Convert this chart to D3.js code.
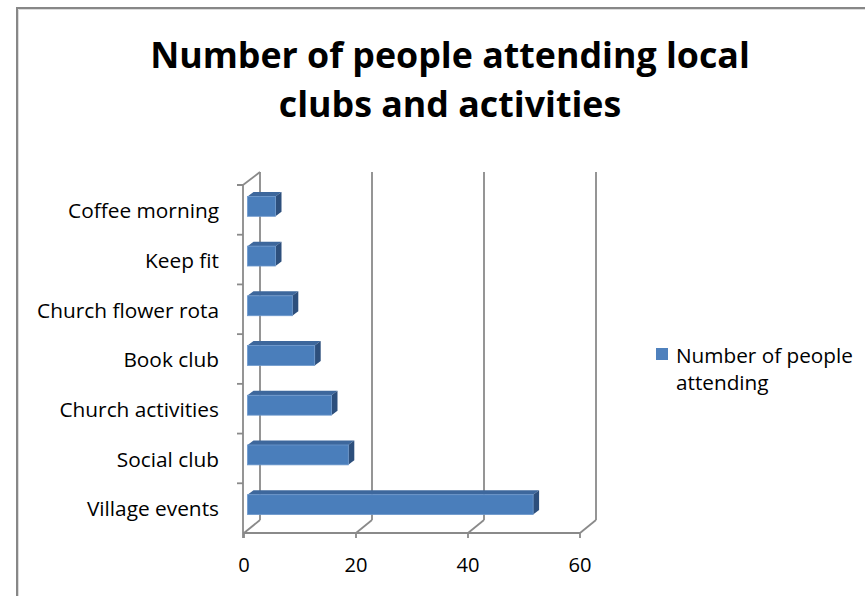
<!DOCTYPE html>
<html>
<head>
<meta charset="utf-8">
<script src="https://cdn.jsdelivr.net/npm/d3@7"></script>
<style>
  html, body { margin: 0; padding: 0; background: #fff; }
  svg { display: block; }
</style>
</head>
<body>
<script>
// Chart data
const categories = ["Village events", "Social club", "Church activities", "Book club",
                    "Church flower rota", "Keep fit", "Coffee morning"];
const values = [51, 18, 15, 12, 8, 5, 5];
const xTicks = [0, 20, 40, 60];
const titleLines = ["Number of people attending local", "clubs and activities"];
const seriesName = ["Number of people", "attending"];

const W = 865, H = 596;
const FONT = "'Open Sans', 'Noto Sans', 'DejaVu Sans', sans-serif";

const svg = d3.select("body").append("svg").attr("width", W).attr("height", H);

// font size that makes a string span a given width
function fitSize(text, weight, target) {
  const t = svg.append("text").attr("font-family", FONT).attr("font-weight", weight)
    .attr("font-size", 100).text(text);
  const w = t.node().getComputedTextLength();
  t.remove();
  return 100 * target / w;
}

// chart area frame
svg.append("path").attr("d", `M17,${H + 5}V8H${W + 5}`)
  .attr("fill", "none").attr("stroke", "#878787").attr("stroke-width", 2);
svg.append("path").attr("d", `M18.5,${H + 5}V9.5H${W + 5}`)
  .attr("fill", "none").attr("stroke", "#dcdcdc").attr("stroke-width", 1);

// title
const titleSize = fitSize(titleLines[0], 700, 600);
svg.append("g").selectAll("text").data(titleLines).join("text")
  .attr("x", 450).attr("y", (d, i) => 68 + i * 49)
  .attr("text-anchor", "middle")
  .attr("font-family", FONT).attr("font-weight", 700)
  .attr("font-size", titleSize).attr("fill", "#000")
  .text(d => d);

// scales (front plane of the 3-D box)
const x = d3.scaleLinear().domain([0, 60]).range([244, 580]);
const y = d3.scaleBand().domain(categories).range([533, 185]);

// depth of the box (oblique offset to the back plane)
const DX = 16, DY = -13;
const AX = "#8a8a8a";
const yTop = 185, yBot = 533;

const grid = svg.append("g").attr("fill", "none").attr("stroke", AX).attr("stroke-width", 1.8);

// back-wall gridlines
grid.selectAll("line.back").data(xTicks).join("line").attr("class", "back")
  .attr("x1", d => x(d) + DX).attr("x2", d => x(d) + DX)
  .attr("y1", yTop + DY).attr("y2", yBot + DY);
// floor lines running into depth
grid.selectAll("line.floor").data(xTicks).join("line").attr("class", "floor")
  .attr("x1", d => x(d)).attr("y1", yBot)
  .attr("x2", d => x(d) + DX).attr("y2", yBot + DY);
// top edge of left wall
grid.append("line").attr("x1", x(0) - 1).attr("y1", yTop).attr("x2", x(0) + DX).attr("y2", yTop + DY);

// category axis (front-left edge)
grid.append("line").attr("x1", x(0) - 1).attr("x2", x(0) - 1).attr("y1", yTop).attr("y2", yBot + 5);
const bounds = categories.map(c => y(c)).concat([yTop]);
grid.selectAll("line.ytick").data(bounds).join("line").attr("class", "ytick")
  .attr("x1", x(0) - 7).attr("x2", x(0) - 1).attr("y1", d => d).attr("y2", d => d);

// value axis (front-bottom edge)
grid.append("line").attr("x1", x(0) - 1).attr("x2", x(60)).attr("y1", yBot).attr("y2", yBot);
grid.selectAll("line.xtick").data(xTicks).join("line").attr("class", "xtick")
  .attr("x1", d => x(d)).attr("x2", d => x(d)).attr("y1", yBot).attr("y2", yBot + 5);

// axis labels
const labelSize = fitSize("Church flower rota", 400, 182);
svg.append("g").selectAll("text").data(categories).join("text")
  .attr("x", 219).attr("y", d => y(d) + y.bandwidth() / 2 + 1)
  .attr("dy", "0.35em").attr("text-anchor", "end")
  .attr("font-family", FONT).attr("font-size", labelSize).attr("fill", "#000")
  .text(d => d);

const tickSize = fitSize("20", 400, 23);
svg.append("g").selectAll("text").data(xTicks).join("text")
  .attr("x", d => x(d)).attr("y", 572).attr("text-anchor", "middle")
  .attr("font-family", FONT).attr("font-size", tickSize).attr("fill", "#000")
  .text(d => d);

// 3-D bars
const FX = 3.5, FY = -3.5;    // front face offset into the box
const BDX = 6, BDY = -4.5;    // bar depth
const bh = y.bandwidth() * 0.4;
const bars = svg.append("g").selectAll("g").data(categories.map((c, i) => ({ c, v: values[i] }))).join("g");

bars.each(function (d) {
  const g = d3.select(this);
  const x0 = x(0) + FX, x1 = x(d.v) + FX;
  const yc = y(d.c) + y.bandwidth() / 2 + FY;
  const t = yc - bh / 2, b = yc + bh / 2;
  g.append("polygon")
    .attr("points", [[x0, t], [x1, t], [x1 + BDX, t + BDY], [x0 + BDX, t + BDY]].join(" "))
    .attr("fill", "#3d679c");
  g.append("polygon")
    .attr("points", [[x1, t], [x1 + BDX, t + BDY], [x1 + BDX, b + BDY], [x1, b]].join(" "))
    .attr("fill", "#2d4f7c");
  g.append("rect").attr("x", x0).attr("y", t).attr("width", x1 - x0).attr("height", bh)
    .attr("fill", "#4a7ebb").attr("stroke", "#6d98cc").attr("stroke-width", 0.8);
});

// legend
const legendSize = fitSize(seriesName[0], 400, 177);
svg.append("rect").attr("x", 656).attr("y", 348).attr("width", 12).attr("height", 12)
  .attr("fill", "#4f81bd");
svg.append("g").selectAll("text").data(seriesName).join("text")
  .attr("x", 676).attr("y", (d, i) => 363 + i * 27)
  .attr("font-family", FONT).attr("font-size", legendSize).attr("fill", "#000")
  .text(d => d);
</script>
</body>
</html>
